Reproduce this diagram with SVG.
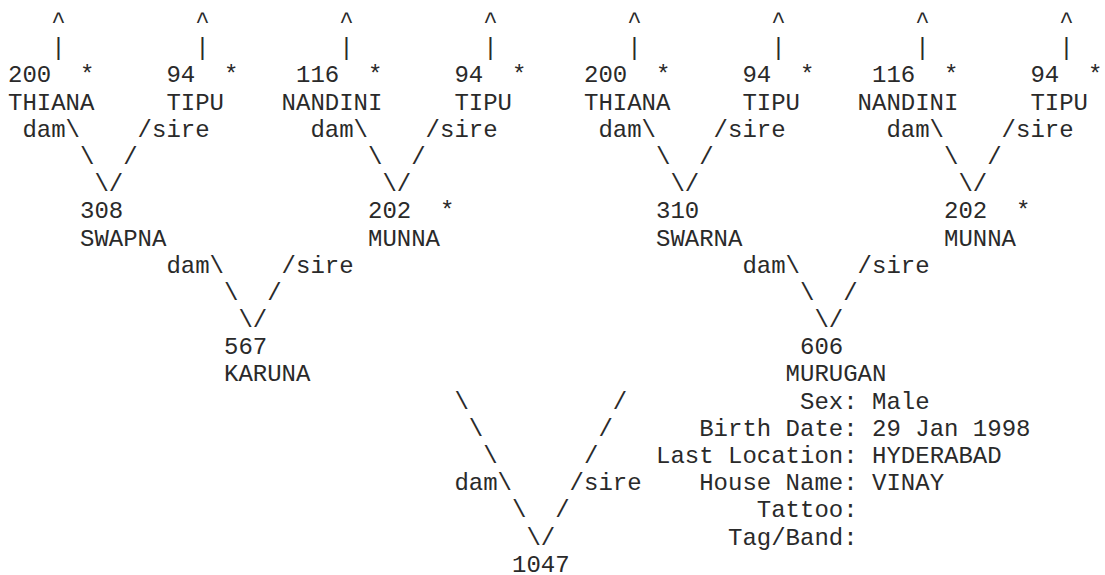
<svg xmlns="http://www.w3.org/2000/svg" width="1105" height="575" viewBox="0 0 1105 575">
<style>
text{font-family:"Liberation Mono","Courier New",monospace;font-size:24px;fill:#2a2a2a;white-space:pre}
</style>
<rect width="1105" height="575" fill="#fff"/>
<g id="connectors">
<text x="51.2" y="28">^</text><text x="195.2" y="28">^</text><text x="339.2" y="28">^</text><text x="483.2" y="28">^</text><text x="627.2" y="28">^</text><text x="771.2" y="28">^</text><text x="915.2" y="28">^</text><text x="1059.2" y="28">^</text>
<text x="51.2" y="55.2">|</text><text x="195.2" y="55.2">|</text><text x="339.2" y="55.2">|</text><text x="483.2" y="55.2">|</text><text x="627.2" y="55.2">|</text><text x="771.2" y="55.2">|</text><text x="915.2" y="55.2">|</text><text x="1059.2" y="55.2">|</text>
<text x="22.4" y="136.7">dam\</text><text x="137.6" y="136.7">/sire</text>
<text x="310.4" y="136.7">dam\</text><text x="425.6" y="136.7">/sire</text>
<text x="598.4" y="136.7">dam\</text><text x="713.6" y="136.7">/sire</text>
<text x="886.4" y="136.7">dam\</text><text x="1001.6" y="136.7">/sire</text>
<text x="80" y="163.9">\</text><text x="123.2" y="163.9">/</text>
<text x="368" y="163.9">\</text><text x="411.2" y="163.9">/</text>
<text x="656" y="163.9">\</text><text x="699.2" y="163.9">/</text>
<text x="944" y="163.9">\</text><text x="987.2" y="163.9">/</text>
<text x="94.4" y="191.1">\/</text><text x="382.4" y="191.1">\/</text><text x="670.4" y="191.1">\/</text><text x="958.4" y="191.1">\/</text>
<text x="166.4" y="272.7">dam\</text><text x="281.6" y="272.7">/sire</text>
<text x="742.4" y="272.7">dam\</text><text x="857.6" y="272.7">/sire</text>
<text x="224" y="299.9">\</text><text x="267.2" y="299.9">/</text>
<text x="800" y="299.9">\</text><text x="843.2" y="299.9">/</text>
<text x="238.4" y="327.1">\/</text><text x="814.4" y="327.1">\/</text>
<text x="454.4" y="408.6">\</text><text x="612.8" y="408.6">/</text>
<text x="468.8" y="435.8">\</text><text x="598.4" y="435.8">/</text>
<text x="483.2" y="463">\</text><text x="584" y="463">/</text>
<text x="454.4" y="490.2">dam\</text><text x="569.6" y="490.2">/sire</text>
<text x="512" y="517.4">\</text><text x="555.2" y="517.4">/</text>
<text x="526.4" y="544.6">\/</text>
</g>
<g id="node-200-thiana-a"><text x="8" y="82.4">200</text><text x="80" y="82.4">*</text><text x="8" y="109.6">THIANA</text></g>
<g id="node-94-tipu-a"><text x="166.4" y="82.4">94</text><text x="224" y="82.4">*</text><text x="166.4" y="109.6">TIPU</text></g>
<g id="node-116-nandini-a"><text x="296" y="82.4">116</text><text x="368" y="82.4">*</text><text x="281.6" y="109.6">NANDINI</text></g>
<g id="node-94-tipu-b"><text x="454.4" y="82.4">94</text><text x="512" y="82.4">*</text><text x="454.4" y="109.6">TIPU</text></g>
<g id="node-200-thiana-b"><text x="584" y="82.4">200</text><text x="656" y="82.4">*</text><text x="584" y="109.6">THIANA</text></g>
<g id="node-94-tipu-c"><text x="742.4" y="82.4">94</text><text x="800" y="82.4">*</text><text x="742.4" y="109.6">TIPU</text></g>
<g id="node-116-nandini-b"><text x="872" y="82.4">116</text><text x="944" y="82.4">*</text><text x="857.6" y="109.6">NANDINI</text></g>
<g id="node-94-tipu-d"><text x="1030.4" y="82.4">94</text><text x="1088" y="82.4">*</text><text x="1030.4" y="109.6">TIPU</text></g>
<g id="node-308-swapna"><text x="80" y="218.3">308</text><text x="80" y="245.5">SWAPNA</text></g>
<g id="node-202-munna-a"><text x="368" y="218.3">202</text><text x="440" y="218.3">*</text><text x="368" y="245.5">MUNNA</text></g>
<g id="node-310-swarna"><text x="656" y="218.3">310</text><text x="656" y="245.5">SWARNA</text></g>
<g id="node-202-munna-b"><text x="944" y="218.3">202</text><text x="1016" y="218.3">*</text><text x="944" y="245.5">MUNNA</text></g>
<g id="node-567-karuna"><text x="224" y="354.3">567</text><text x="224" y="381.4">KARUNA</text></g>
<g id="node-606-murugan"><text x="800" y="354.3">606</text><text x="785.6" y="381.4">MURUGAN</text>
<text x="800" y="408.6">Sex: Male</text>
<text x="699.2" y="435.8">Birth Date: 29 Jan 1998</text>
<text x="656" y="463">Last Location: HYDERABAD</text>
<text x="699.2" y="490.2">House Name: VINAY</text>
<text x="756.8" y="517.4">Tattoo:</text>
<text x="728" y="544.6">Tag/Band:</text></g>
<g id="node-1047"><text x="512" y="571.8">1047</text></g>
</svg>
